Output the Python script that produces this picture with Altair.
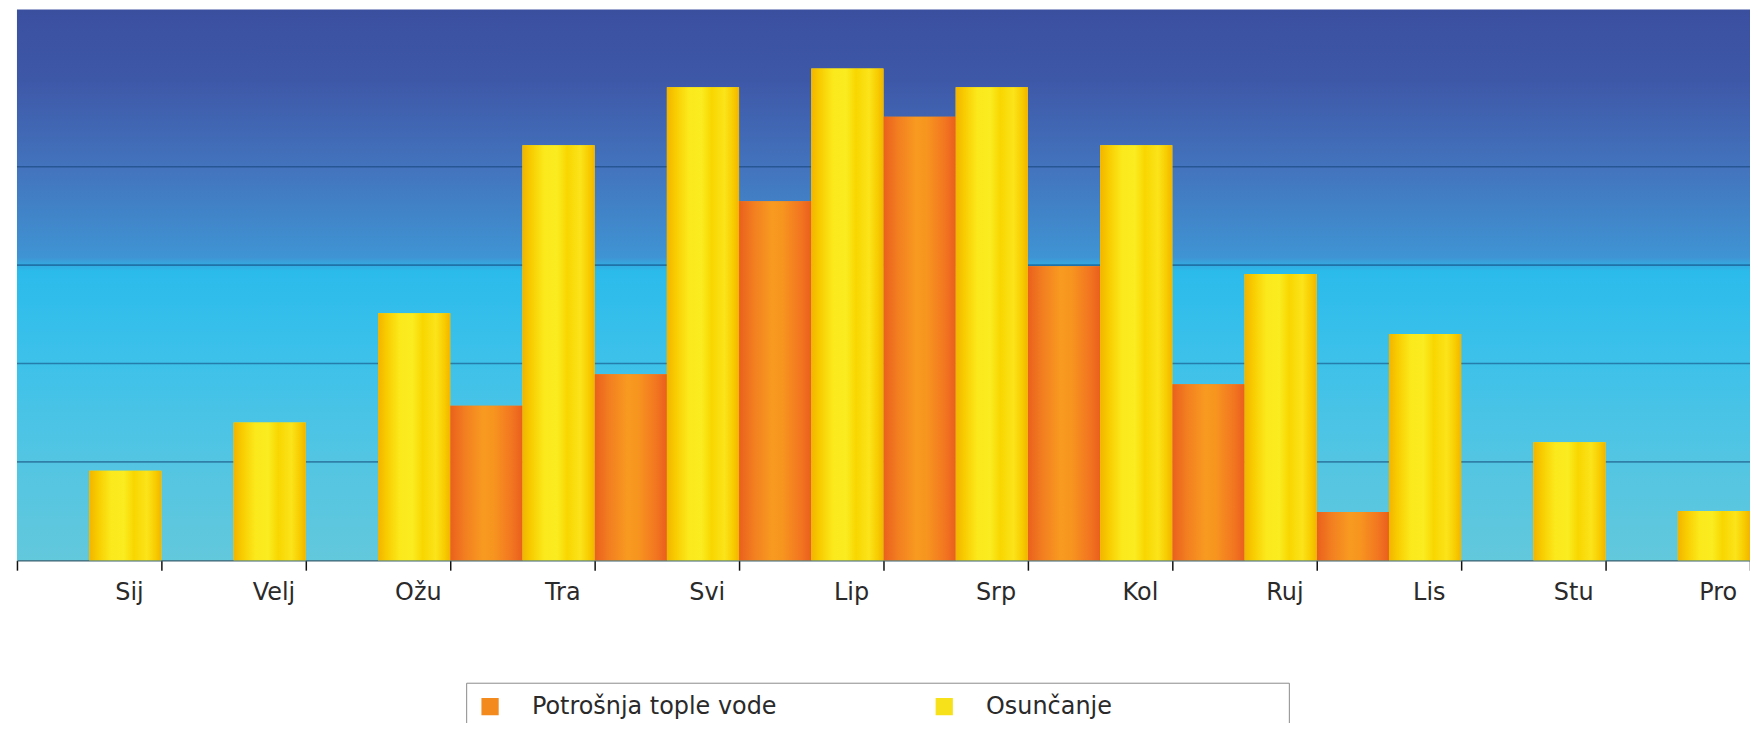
import altair as alt
import pandas as pd

# ---- data ----
months = ["Sij", "Velj", "Ožu", "Tra", "Svi", "Lip", "Srp", "Kol", "Ruj", "Lis", "Stu", "Pro"]
series_names = ["Potrošnja tople vode", "Osunčanje"]
potrosnja = [0, 0, 0, 1.57, 1.89, 3.65, 4.51, 2.99, 1.79, 0.49, 0, 0]
osuncanje = [0.91, 1.40, 2.51, 4.22, 4.81, 5.00, 4.81, 4.22, 2.91, 2.30, 1.20, 0.50]
grid_values = [1, 2, 3, 4]
y_max = 5.6

rows = []
for m, p, o in zip(months, potrosnja, osuncanje):
    rows.append({"mjesec": m, "serija": series_names[0], "vrijednost": p})
    rows.append({"mjesec": m, "serija": series_names[1], "vrijednost": o})
df = pd.DataFrame(rows)
grid_df = pd.DataFrame({"g": grid_values})

W, H = 1740, 553

bg_gradient = alt.Gradient(
    gradient="linear", x1=0, x2=0, y1=0, y2=1,
    stops=[
        alt.GradientStop(color="#3b4f9f", offset=0.0),
        alt.GradientStop(color="#3e58a8", offset=0.13),
        alt.GradientStop(color="#4374bd", offset=0.29),
        alt.GradientStop(color="#3f94d3", offset=0.45),
        alt.GradientStop(color="#2bbbeb", offset=0.475),
        alt.GradientStop(color="#3cc1ea", offset=0.63),
        alt.GradientStop(color="#52c5e3", offset=0.81),
        alt.GradientStop(color="#62c8dc", offset=1.0),
    ],
)
yellow_gradient = alt.Gradient(
    gradient="linear", x1=0, x2=1, y1=0, y2=0,
    stops=[
        alt.GradientStop(color="#f2b400", offset=0.0),
        alt.GradientStop(color="#f8cc00", offset=0.12),
        alt.GradientStop(color="#fbe91c", offset=0.3),
        alt.GradientStop(color="#faec20", offset=0.48),
        alt.GradientStop(color="#f8d600", offset=0.62),
        alt.GradientStop(color="#fbe41a", offset=0.8),
        alt.GradientStop(color="#f7cc00", offset=0.92),
        alt.GradientStop(color="#f2b400", offset=1.0),
    ],
)
orange_gradient = alt.Gradient(
    gradient="linear", x1=0, x2=1, y1=0, y2=0,
    stops=[
        alt.GradientStop(color="#ea601d", offset=0.0),
        alt.GradientStop(color="#f27e20", offset=0.2),
        alt.GradientStop(color="#f89a20", offset=0.45),
        alt.GradientStop(color="#f7951f", offset=0.6),
        alt.GradientStop(color="#f27620", offset=0.85),
        alt.GradientStop(color="#ea5f1d", offset=1.0),
    ],
)

x_enc = alt.X(
    "mjesec:N",
    sort=months,
    scale=alt.Scale(paddingInner=0, paddingOuter=0),
    axis=alt.Axis(
        title=None, labelAngle=0, labelFont="DejaVu Sans", labelFontSize=24,
        labelColor="#2a2a2a", labelOffset=40, labelBaseline="alphabetic",
        labelPadding=29, tickBand="extent", tickSize=10, tickColor="#111111",
        tickWidth=1.5, domainColor="#3a6070", domainWidth=1.5, grid=False,
    ),
)
xoff_enc = alt.XOffset("serija:N", scale=alt.Scale(domain=series_names, paddingInner=0, paddingOuter=0))
y_enc = alt.Y("vrijednost:Q", scale=alt.Scale(domain=[0, y_max], nice=False, zero=True), axis=None)

bg = alt.Chart(alt.Data(values=[{"k": 1}])).mark_rect(fill=bg_gradient).encode(
    x=alt.value(0), x2=alt.value("width"), y=alt.value(0), y2=alt.value("height")
)

grid = alt.Chart(grid_df).mark_rule(stroke="#0b3a6e", strokeOpacity=0.5, strokeWidth=1.6).encode(
    y=alt.Y("g:Q", scale=alt.Scale(domain=[0, y_max], nice=False, zero=True), axis=None)
)

base = alt.Chart(df)

flat = base.mark_bar().encode(
    x=x_enc, xOffset=xoff_enc, y=y_enc,
    color=alt.Color(
        "serija:N",
        scale=alt.Scale(domain=series_names, range=["#f28a1e", "#f6e11a"]),
        legend=alt.Legend(
            orient="none", legendX=451, legendY=676, direction="horizontal",
            title="\u00a0", titleOrient="right", titlePadding=166,
            symbolType="square", symbolSize=300, symbolStrokeWidth=0,
            labelFont="DejaVu Sans", labelFontSize=24, labelColor="#2a2a2a",
            labelLimit=500, labelOffset=30, columnPadding=156, padding=12,
            strokeColor="#8a8a8a", fillColor="#ffffff",
        ),
    ),
)

orange_bars = base.transform_filter(alt.datum.serija == series_names[0]).mark_bar(fill=orange_gradient).encode(
    x=x_enc, xOffset=xoff_enc, y=y_enc
)
yellow_bars = base.transform_filter(alt.datum.serija == series_names[1]).mark_bar(fill=yellow_gradient).encode(
    x=x_enc, xOffset=xoff_enc, y=y_enc
)

chart = alt.layer(bg, grid, flat, orange_bars, yellow_bars).properties(
    width=W, height=H,
    autosize=alt.AutoSizeParams(type="none"),
    padding={"left": 9, "top": 0, "right": 0, "bottom": 162},
    background="#ffffff",
).configure_view(stroke=None)

chart.save("out.html", embed_options={"renderer": "svg", "actions": False})
